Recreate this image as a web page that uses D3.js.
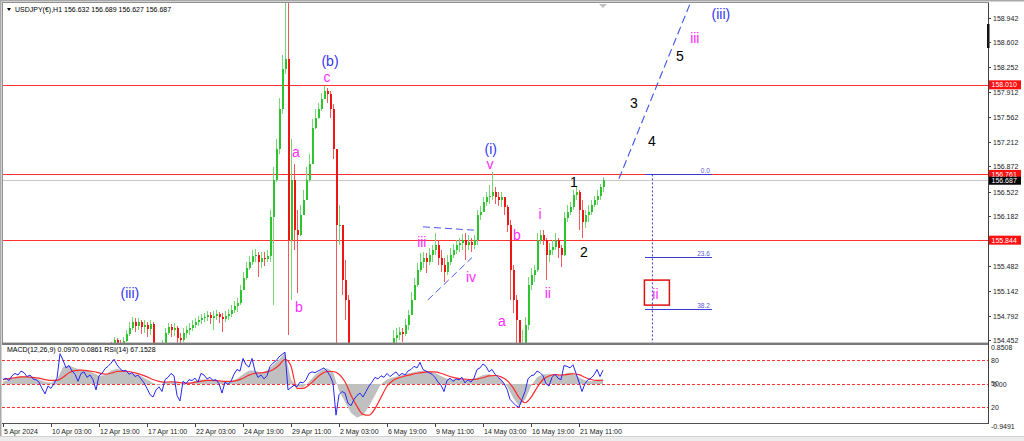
<!DOCTYPE html>
<html><head><meta charset="utf-8">
<script src="https://cdn.jsdelivr.net/npm/d3@7"></script>
<style>body{margin:0;background:#fff;overflow:hidden}svg{display:block}</style>
</head><body>
<svg id="c" width="1024" height="441"></svg>
<script>
// ---------------- DATA ----------------
const symbolHeader = "USDJPY(€),H1  156.632 156.689 156.627 156.687";
const indicatorHeader = "MACD(12,26,9) 0.0970 0.0861  RSI(14) 67.1528";
const timeLabels = ["5 Apr 2024","10 Apr 03:00","12 Apr 19:00","17 Apr 11:00","22 Apr 03:00","24 Apr 19:00","29 Apr 11:00","2 May 03:00","6 May 19:00","9 May 11:00","14 May 03:00","16 May 19:00","21 May 11:00"];
const timeLabelIdx = [0,16,32,48,64,80,96,112,128,144,160,176,192]; // 4-hour candle index
const priceTicks = [158.942,158.602,158.252,157.912,157.562,157.212,156.872,156.522,156.182,155.482,155.142,154.792,154.452];
const levelLines = [158.010,156.761,155.844];
const lastPrice = 156.687;
const indLabels = [["0.8508",0.8508],["80",80],["50",50],["20",20],["-0.9491",-0.9491]];
const rsiLevels = [80,50,20];

const firstCandle = 36;
const firstOpen = 154.40;
const closes = [154.38,154.45,154.41,154.38,154.44,154.54,154.62,154.70,154.65,154.70,
154.63,154.66,154.61,154.68,154.38,154.24,154.28,154.38,154.55,154.63,
154.59,154.62,154.48,154.45,154.55,154.59,154.62,154.66,154.70,154.73,
154.76,154.77,154.80,154.76,154.79,154.82,154.77,154.75,154.79,154.82,
154.87,154.93,154.97,155.15,155.32,155.46,155.54,155.63,155.64,155.54,
155.60,155.58,155.63,156.17,156.69,157.11,157.67,158.23,158.37,155.85,
156.69,155.99,155.92,156.20,156.41,156.69,156.90,157.41,157.55,157.67,
157.81,157.92,157.88,157.67,157.11,156.06,156.06,155.29,155.01,154.17,
153.89,153.61,153.47,153.33,152.62,152.50,152.62,152.85,153.05,153.21,
153.47,153.68,153.89,154.17,154.48,154.52,154.56,154.54,154.66,154.80,
155.01,155.22,155.43,155.54,155.60,155.54,155.64,155.71,155.78,155.60,
155.50,155.40,155.54,155.64,155.71,155.77,155.81,155.85,155.78,155.82,
155.78,155.85,156.20,156.24,156.37,156.44,156.46,156.52,156.45,156.41,
156.44,156.30,156.06,155.43,155.01,154.73,154.03,154.38,154.66,155.22,
155.36,155.43,155.85,155.91,155.85,155.64,155.71,155.75,155.85,155.74,
155.64,156.16,156.24,156.30,156.48,156.51,156.27,156.10,156.20,156.24,
156.34,156.41,156.46,156.58,156.687];
const highs = [154.42,154.49,154.48,154.45,154.49,154.59,154.70,154.77,154.76,154.76,
154.73,154.73,154.70,154.73,154.70,154.38,154.38,154.45,154.62,154.69,
154.68,154.69,154.65,154.55,154.62,154.65,154.69,154.73,154.76,154.79,
154.82,154.83,154.86,154.84,154.86,154.87,154.84,154.83,154.86,154.89,
154.94,155.00,155.04,155.22,155.40,155.54,155.63,155.71,155.72,155.68,
155.68,155.68,155.70,156.27,156.87,157.25,157.83,158.42,160.20,159.20,
157.25,156.90,156.27,156.34,156.55,156.86,157.04,157.53,157.67,157.76,
157.89,157.99,157.97,157.92,157.74,157.11,156.34,156.06,155.57,155.08,
154.17,153.96,153.75,153.61,153.47,152.78,152.85,153.05,153.26,153.40,
153.68,153.89,154.10,154.38,154.59,154.62,154.63,154.62,154.75,154.87,
155.12,155.32,155.53,155.67,155.68,155.67,155.74,155.78,155.95,155.85,
155.71,155.60,155.64,155.74,155.79,155.85,155.88,155.93,155.95,155.91,
155.88,155.92,156.27,156.32,156.45,156.51,156.62,156.79,156.58,156.52,
156.52,156.44,156.34,156.13,155.50,155.08,154.73,154.59,154.77,155.33,
155.46,155.50,155.95,155.99,155.99,155.88,155.81,155.85,155.95,155.88,
155.78,156.24,156.34,156.38,156.55,156.59,156.55,156.41,156.27,156.34,
156.41,156.46,156.55,156.63,156.72];
const lows = [154.31,154.37,154.31,154.28,154.34,154.42,154.51,154.59,154.56,154.59,
154.54,154.55,154.49,154.52,154.31,154.17,154.20,154.28,154.35,154.52,
154.49,154.51,154.40,154.37,154.42,154.48,154.52,154.58,154.62,154.65,
154.68,154.70,154.72,154.68,154.59,154.73,154.69,154.56,154.70,154.73,
154.77,154.83,154.84,154.94,155.15,155.29,155.43,155.50,155.54,155.33,
155.46,155.49,155.54,155.54,154.94,156.65,157.05,157.60,158.16,154.52,
155.01,155.71,155.11,155.90,156.20,156.41,156.66,156.90,157.39,157.53,
157.64,157.81,157.76,157.55,156.97,153.00,155.78,155.08,154.73,153.89,
153.61,153.33,153.21,153.05,152.22,152.08,152.36,152.62,152.85,152.98,
153.15,153.47,153.68,153.85,154.17,154.38,154.45,154.42,154.51,154.59,
154.80,155.01,155.19,155.40,155.46,155.39,155.50,155.54,155.64,155.50,
155.40,155.26,155.36,155.50,155.60,155.65,155.68,155.71,155.57,155.71,
155.68,155.72,155.78,156.13,156.24,156.32,156.35,156.41,156.35,156.32,
156.31,156.20,155.96,155.01,154.83,154.38,153.61,153.96,154.33,154.59,
155.15,155.26,155.40,155.79,155.77,155.29,155.54,155.64,155.71,155.60,
155.47,155.63,156.10,156.20,156.27,156.41,155.99,155.88,156.02,156.10,
156.20,156.30,156.34,156.41,156.52];

// indicators: RSI per 4h candle (0..200), MACD per 2 candles
const rsi = [55,57,54,60,63,61,66,64,59,61, 56,55,52,44,37,47,44,50,57,88,
80,70,73,66,62,53,63,65,58,61, 55,42,60,63,69,72,76,81,74,69,
66,67,62,64,59,61,56,51,44,36, 33,42,46,40,55,58,63,60,35,28,
53,50,55,54,57,52,63,61,56,58, 54,55,50,38,52,49,53,62,68,66,
82,74,71,82,66,58,61,56,60,72, 76,79,84,87,90,42,45,48,46,52,
51,55,63,65,64,66,68,70,66,60, 51,10,36,40,38,25,22,30,35,38,
33,40,47,52,58,56,60,58,63,59, 62,65,60,63,61,66,68,72,70,77,
68,66,64,62,58,52,48,40,54,57, 53,56,55,58,51,55,52,57,68,70,
75,72,65,68,62,58,55,50,43,30, 26,22,20,30,40,56,60,61,66,64,
60,50,47,58,62,57,55,73,72,70, 74,63,52,40,50,55,57,61,68,59,
67.15];
const macdHist = [0.05,0.10,0.15,0.18,0.17,0.14,0.10,0.05,0.03,0.10,
0.38,0.42,0.36,0.32,0.30,0.25,0.18,0.20,0.30,0.34,
0.30,0.26,0.22,0.18,0.10,0.02,-0.02,0.02,0.06,0.02,
-0.02,0.03,0.06,0.10,0.10,0.08,0.06,0.04,0.06,0.12,
0.22,0.30,0.30,0.25,0.30,0.42,0.55,0.70,0.10,-0.05,
-0.08,0.05,0.20,0.30,0.35,0.28,-0.15,-0.40,-0.65,-0.75,
-0.70,-0.50,-0.25,0.00,0.10,0.15,0.18,0.22,0.25,0.28,
0.30,0.28,0.25,0.18,0.12,0.10,0.10,0.10,0.10,0.14,
0.20,0.22,0.18,0.10,-0.05,-0.30,-0.50,-0.35,-0.05,0.15,
0.22,0.22,0.20,0.18,0.25,0.25,0.15,0.08,0.06,0.08,
0.097];
const macdSignal = [0.10,0.12,0.14,0.16,0.16,0.15,0.13,0.10,0.08,0.08,
0.15,0.25,0.30,0.31,0.30,0.28,0.25,0.22,0.24,0.28,
0.29,0.28,0.25,0.21,0.16,0.10,0.06,0.04,0.05,0.04,
0.02,0.02,0.04,0.06,0.08,0.08,0.07,0.06,0.06,0.08,
0.13,0.20,0.24,0.25,0.27,0.32,0.42,0.55,0.40,-0.10,
-0.10,-0.02,0.10,0.22,0.28,0.28,0.22,0.05,-0.25,-0.50,
-0.68,-0.70,-0.55,-0.30,-0.05,0.08,0.14,0.18,0.21,0.24,
0.26,0.27,0.27,0.24,0.19,0.15,0.12,0.11,0.10,0.11,
0.14,0.18,0.19,0.16,0.08,-0.08,-0.30,-0.42,-0.30,-0.08,
0.10,0.18,0.21,0.20,0.21,0.23,0.21,0.15,0.10,0.08,
0.086];

// Elliott wave labels [text, candle index, price, kind]
const waveLabels = [
 ["(iii)",42.3,155.10,"blue"],["(b)",109,158.34,"blue"],["c",108,158.12,"mag"],
 ["a",97.6,157.07,"mag"],["b",98.6,154.91,"mag"],["(i)",162.6,157.12,"blue"],
 ["v",162.3,156.90,"mag"],["iii",139.6,155.82,"mag"],["iv",156,155.33,"mag"],
 ["b",171.3,155.92,"mag"],["a",166.3,154.72,"mag"],["i",179,156.21,"mag"],
 ["ii",181.6,155.10,"mag"],["1",190.3,156.65,"blk"],["2",193.6,155.68,"blk"],
 ["3",210.3,157.75,"blk"],["4",216.3,157.23,"blk"],["5",225.6,158.41,"blk"],
 ["iii",230.6,158.66,"mag"],["(iii)",239.3,158.99,"blue"]];
const boxedLabel = ["ii",217.8,155.12];
const projection = [[205.3,156.70],[229.6,159.20]];
const triUpper = [[140.0,156.03],[158.3,155.98]];
const triLower = [[141.6,155.01],[156.3,155.60]];
const fibHigh = 156.761, fibLow = 151.86, fibLevels = [0.0,23.6,38.2];
const fibStart = 214, fibEnd = 236.3, fibVert = 216.3;

// ---------------- DRAW ----------------
const svg = d3.select("#c");
const F = "'Liberation Sans', Arial, sans-serif";
const x = d3.scaleLinear().domain([0,200]).range([3,603]);
const y = d3.scaleLinear().domain([154.452,158.942]).range([340,18]);
const yM = d3.scaleLinear().domain([-0.9491,0.8508]).range([426.4,346]);
const yR = d3.scaleLinear().domain([0,100]).range([423,344.3]);
const P = {l:2,r:988,t:3,b:343};

svg.append("rect").attr("width",1024).attr("height",441).attr("fill","#fff");
const defs = svg.append("defs");
defs.append("clipPath").attr("id","cm").append("rect").attr("x",P.l).attr("y",P.t).attr("width",P.r-P.l).attr("height",P.b-P.t);
defs.append("clipPath").attr("id","ci").append("rect").attr("x",P.l).attr("y",345).attr("width",P.r-P.l).attr("height",78);

const main = svg.append("g").attr("clip-path","url(#cm)");
main.append("line").attr("x1",P.l).attr("x2",P.r).attr("y1",Math.round(y(lastPrice))+0.5).attr("y2",Math.round(y(lastPrice))+0.5).attr("stroke","#c8c8c8");
levelLines.forEach(v=>{
  main.append("line").attr("x1",P.l).attr("x2",P.r).attr("y1",Math.round(y(v))+0.5).attr("y2",Math.round(y(v))+0.5).attr("stroke","#ff3030").attr("stroke-width",1.2);
});

// candles
const cg = main.append("g").attr("shape-rendering","crispEdges");
closes.forEach((c,i)=>{
  const j = firstCandle+i;
  const o = i===0?firstOpen:closes[i-1];
  const h = Math.max(highs[i],o,c), l = Math.min(lows[i],o,c);
  const bull = c>=o;
  const cx = x(j);
  cg.append("line").attr("x1",cx+0.5).attr("x2",cx+0.5).attr("y1",y(h)).attr("y2",y(l))
    .attr("stroke",bull?"#74d874":"#f25a5a").attr("stroke-width",1);
  const yt = y(Math.max(o,c)), yb = y(Math.min(o,c));
  cg.append("rect").attr("x",cx-0.5).attr("width",2).attr("y",yt).attr("height",Math.max(1,yb-yt))
    .attr("fill",bull?"#2ec42e":"#f01414");
});

const lineGen = d3.line().x(d=>x(d[0])).y(d=>y(d[1]));
[triUpper,triLower].forEach(t=>main.append("path").attr("d",lineGen(t)).attr("stroke","#4a5ae6").attr("fill","none").attr("stroke-dasharray","7,4"));
main.append("path").attr("d",lineGen(projection)).attr("stroke","#3e55e8").attr("fill","none").attr("stroke-width",1.1).attr("stroke-dasharray","8,4");

fibLevels.forEach(lv=>{
  const p = fibHigh-(fibHigh-fibLow)*lv/100;
  main.append("line").attr("x1",x(fibStart)).attr("x2",x(fibEnd)).attr("y1",Math.round(y(p))+0.5).attr("y2",Math.round(y(p))+0.5).attr("stroke","#3a3ad8");
  main.append("text").attr("x",x(fibEnd)-2).attr("y",Math.round(y(p))-1.5).attr("text-anchor","end")
    .attr("font-family",F).attr("font-size",6.5).attr("fill","#5a5ad0").text(lv.toFixed(1));
});
main.append("line").attr("x1",x(fibVert)+0.5).attr("x2",x(fibVert)+0.5).attr("y1",y(fibHigh)).attr("y2",y(fibLow))
  .attr("stroke","#3a3ad8").attr("stroke-dasharray","2,2");

const col = {blue:"#3535f5",mag:"#ff2bff",blk:"#000"};
waveLabels.forEach(w=>{
  main.append("text").attr("x",x(w[1])).attr("y",y(w[2])).attr("dy","0.35em").attr("text-anchor","middle")
    .attr("font-family",F).attr("font-size",14).attr("fill",col[w[3]]).text(w[0]);
});
main.append("rect").attr("x",x(boxedLabel[1])-12).attr("y",y(boxedLabel[2])-12).attr("width",25).attr("height",25)
  .attr("fill","none").attr("stroke","#e01010").attr("stroke-width",1.5);
main.append("text").attr("x",x(boxedLabel[1])-1).attr("y",y(boxedLabel[2])+2).attr("dy","0.35em").attr("text-anchor","middle")
  .attr("font-family",F).attr("font-size",14).attr("fill",col.mag).text(boxedLabel[0]);

svg.append("path").attr("d","M599,4 L607,4 L603,8 Z").attr("fill","#c0c0c0");

svg.append("path").attr("d","M7,8 L11,8 L9,11 Z").attr("fill","#000");
svg.append("text").attr("x",15).attr("y",12).attr("font-family",F).attr("font-size",7).attr("fill","#000").text(symbolHeader);

// ---------- indicator panel ----------
const ind = svg.append("g").attr("clip-path","url(#ci)");
rsiLevels.forEach(v=>{
  ind.append("line").attr("x1",P.l).attr("x2",P.r).attr("y1",Math.round(yR(v))+0.5).attr("y2",Math.round(yR(v))+0.5)
   .attr("stroke","#ff3030").attr("stroke-dasharray","3,2");
});
ind.append("path").attr("d",d3.area().x((d,i)=>x(2*i)).y0(yM(0)).y1(d=>yM(d))(macdHist)).attr("fill","#c0c0c0");
ind.append("path").attr("d",d3.line().x((d,i)=>x(2*i)).y(d=>yM(d)).curve(d3.curveMonotoneX)(macdSignal)).attr("fill","none").attr("stroke","#ff2a2a").attr("stroke-width",1.2);
ind.append("path").attr("d",d3.line().x((d,i)=>x(i)).y(d=>yR(d))(rsi)).attr("fill","none").attr("stroke","#2626f5").attr("stroke-width",1);
svg.append("text").attr("x",7).attr("y",352).attr("font-family",F).attr("font-size",7).attr("fill","#000").text(indicatorHeader);

// ---------- frames ----------
svg.append("rect").attr("x",0).attr("y",0).attr("width",1024).attr("height",1.5).attr("fill","#a8a8a8");
svg.append("rect").attr("x",0).attr("y",0).attr("width",1.5).attr("height",441).attr("fill","#a8a8a8");
svg.append("rect").attr("x",P.l+0.5).attr("y",P.t-0.5).attr("width",P.r-P.l).attr("height",P.b-P.t+0.5).attr("fill","none").attr("stroke","#909090");
svg.append("rect").attr("x",P.l).attr("y",343).attr("width",P.r-P.l).attr("height",2).attr("fill","#7a7a7a");
svg.append("line").attr("x1",P.l).attr("x2",P.r).attr("y1",423.5).attr("y2",423.5).attr("stroke","#505050");
svg.append("line").attr("x1",P.r+0.5).attr("x2",P.r+0.5).attr("y1",P.t).attr("y2",424).attr("stroke","#404040");
svg.append("rect").attr("x",0).attr("y",437).attr("width",1024).attr("height",4).attr("fill","#ececec");
svg.append("line").attr("x1",0).attr("x2",1024).attr("y1",436.5).attr("y2",436.5).attr("stroke","#d0d0d0");
svg.append("rect").attr("x",987).attr("y",24).attr("width",2.5).attr("height",24).attr("fill","#111");

priceTicks.forEach(v=>{
  const yy = Math.round(y(v))+0.5;
  svg.append("line").attr("x1",P.r).attr("x2",P.r+3).attr("y1",yy).attr("y2",yy).attr("stroke","#404040");
  svg.append("text").attr("x",993).attr("y",yy+2.5).attr("font-family",F).attr("font-size",7).attr("fill","#222").text(v.toFixed(3));
});
levelLines.forEach(v=>{
  const yy = y(v);
  svg.append("rect").attr("x",989).attr("y",yy-4.5).attr("width",32).attr("height",9).attr("fill","#ff1010");
  svg.append("text").attr("x",991.5).attr("y",yy+2.5).attr("font-family",F).attr("font-size",7).attr("fill","#fff").text(v.toFixed(3));
});
{
  const yy = y(lastPrice);
  svg.append("rect").attr("x",989).attr("y",yy-3).attr("width",32).attr("height",8).attr("fill","#000");
  svg.append("text").attr("x",991.5).attr("y",yy+3.5).attr("font-family",F).attr("font-size",7).attr("fill","#fff").text(lastPrice.toFixed(3));
}
indLabels.forEach(d=>{
  const yy = (d[0]==="0.8508"||d[0]==="-0.9491") ? yM(d[1]) : yR(d[1]);
  svg.append("text").attr("x",991).attr("y",yy+(d[0]==="0.8508"?4:2.5)).attr("font-family",F).attr("font-size",7).attr("fill","#222").text(d[0]);
});
svg.append("text").attr("x",993).attr("y",yM(0)+2.5).attr("font-family",F).attr("font-size",7).attr("fill","#222").text("0.00");

timeLabels.forEach((t,i)=>{
  const xx = x(timeLabelIdx[i]);
  svg.append("line").attr("x1",xx+0.5).attr("x2",xx+0.5).attr("y1",424).attr("y2",427).attr("stroke","#404040");
  svg.append("text").attr("x",xx+1).attr("y",434).attr("font-family",F).attr("font-size",7).attr("fill","#222").text(t);
});
</script>
</body></html>
